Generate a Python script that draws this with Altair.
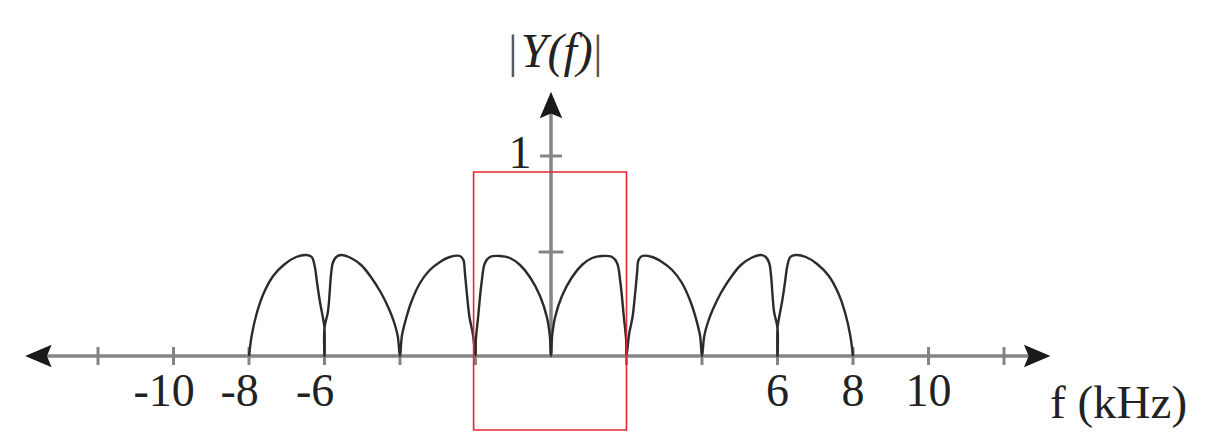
import altair as alt
import pandas as pd

# ---- data ----
f_khz = [
    -8.00, -7.93, -7.80, -7.62, -7.36, -7.05, -6.75, -6.48, -6.34, -6.26, -6.20, -6.12, -6.04, -6.00, -6.00, -6.00,
    -5.91, -5.87, -5.83, -5.78, -5.69, -5.56, -5.30, -5.03, -4.77, -4.50, -4.28, -4.15, -4.06, -4.00,
    -3.95, -3.85, -3.70, -3.47, -3.21, -2.94, -2.68, -2.41, -2.32, -2.28, -2.23, -2.16, -2.07, -2.00,
    -1.99, -1.93, -1.84, -1.75, -1.62, -1.35, -1.09, -0.82, -0.56, -0.29, -0.11, -0.03, 0.00,
    0.03, 0.11, 0.29, 0.56, 0.82, 1.09, 1.35, 1.62, 1.75, 1.84, 1.93, 1.99, 2.00,
    2.07, 2.16, 2.23, 2.28, 2.32, 2.41, 2.68, 2.94, 3.21, 3.47, 3.70, 3.85, 3.95, 4.00,
    4.06, 4.15, 4.28, 4.50, 4.77, 5.03, 5.30, 5.56, 5.69, 5.78, 5.83, 5.87, 5.91, 6.00, 6.00, 6.00,
    6.04, 6.12, 6.20, 6.26, 6.34, 6.48, 6.75, 7.05, 7.36, 7.62, 7.80, 7.93, 8.00,
]
magnitude = [
    0.00, 0.10, 0.21, 0.31, 0.40, 0.46, 0.495, 0.505, 0.495, 0.45, 0.37, 0.27, 0.19, 0.14, 0.00, 0.14,
    0.22, 0.30, 0.40, 0.465, 0.495, 0.505, 0.49, 0.455, 0.395, 0.315, 0.23, 0.165, 0.10, 0.00,
    0.10, 0.18, 0.27, 0.365, 0.43, 0.47, 0.495, 0.50, 0.48, 0.415, 0.315, 0.195, 0.11, 0.00,
    0.08, 0.195, 0.365, 0.465, 0.495, 0.50, 0.49, 0.455, 0.395, 0.30, 0.195, 0.10, 0.00,
    0.10, 0.195, 0.30, 0.395, 0.455, 0.49, 0.50, 0.495, 0.465, 0.365, 0.195, 0.08, 0.00,
    0.11, 0.195, 0.315, 0.415, 0.48, 0.50, 0.495, 0.47, 0.43, 0.365, 0.27, 0.18, 0.10, 0.00,
    0.10, 0.165, 0.23, 0.315, 0.395, 0.455, 0.49, 0.505, 0.495, 0.465, 0.40, 0.30, 0.22, 0.14, 0.00, 0.14,
    0.19, 0.27, 0.37, 0.45, 0.495, 0.505, 0.495, 0.46, 0.40, 0.31, 0.21, 0.10, 0.00,
]
x_ticks = [-12, -10, -8, -6, -4, -2, 2, 4, 6, 8, 10, 12]
x_tick_labels = [-10, -8, -6, 6, 8, 10]
y_ticks = [0.52, 1.0]
y_tick_labels = ["1"]
highlight_band = [-2.05, 2.0]   # red box, kHz
highlight_mag = [-0.37, 0.92]

# ---- scales / layout ----
W, H = 1202, 432
xs = alt.Scale(domain=[-14.384, 17.457], nice=False, zero=False)
ys = alt.Scale(domain=[-0.42, 1.74], nice=False, zero=False)
FONT = "Liberation Serif"
AXIS_C = "#858585"
INK = "#222222"

def X(field="x"):
    return alt.X(f"{field}:Q", scale=xs, axis=None)

def Y(field="y"):
    return alt.Y(f"{field}:Q", scale=ys, axis=None)

curve_df = pd.DataFrame({"x": f_khz, "y": magnitude, "i": list(range(len(f_khz)))})

axes_df = pd.DataFrame({"x": [-13.6, 0.0], "x2": [12.9, 0.0], "y": [0.0, 0.0], "y2": [0.0, 1.27]})
axes = alt.Chart(axes_df).mark_rule(color=AXIS_C, strokeWidth=3.5).encode(
    x=X(), x2="x2:Q", y=Y(), y2="y2:Q")

xt_df = pd.DataFrame({"x": x_ticks})
xt = alt.Chart(xt_df).transform_calculate(y="-0.045", y2="0.045").mark_rule(
    color=AXIS_C, strokeWidth=3).encode(x=X(), y=Y(), y2="y2:Q")

yt_df = pd.DataFrame({"y": y_ticks, "half": [0.33, 0.29]})
yt = alt.Chart(yt_df).transform_calculate(x="-datum.half", x2="datum.half").mark_rule(
    color=AXIS_C, strokeWidth=3).encode(x=X(), x2="x2:Q", y=Y())

curve = alt.Chart(curve_df).mark_line(color="#2b2b2b", strokeWidth=2.4, strokeJoin="round",
                                      interpolate="catmull-rom").encode(
    x=X(), y=Y(), order="i:Q")

arrow_df = pd.DataFrame({
    "x": [-13.58, 12.88, 0.0],
    "y": [0.0, 0.0, 1.255],
    "shape": ["M-1,0L1,-0.85L0.65,0L1,0.85Z", "M1,0L-1,-0.85L-0.65,0L-1,0.85Z", "M0,-1L-0.85,1L0,0.65L0.85,1Z"],
})
arrows = alt.Chart(arrow_df).mark_point(filled=True, color="#1a1a1a", opacity=1, size=700).encode(
    x=X(), y=Y(), shape=alt.Shape("shape:N", scale=None))

xl_df = pd.DataFrame({"v": x_tick_labels})
xlabels = alt.Chart(xl_df).transform_calculate(
    x="datum.v < 0 ? datum.v - 0.25 : datum.v", y="-0.25", t="toString(datum.v)"
).mark_text(font=FONT, fontSize=46, color=INK, align="center", baseline="alphabetic").encode(
    x=X(), y=Y(), text="t:N")

yl_df = pd.DataFrame({"t": y_tick_labels, "x": [-0.82], "y": [0.94]})
ylabels = alt.Chart(yl_df).mark_text(font=FONT, fontSize=46, color=INK, align="center",
                                     baseline="alphabetic").encode(x=X(), y=Y(), text="t:N")

title_df = pd.DataFrame({"t": ["Y(f)"], "x": [-0.80], "y": [1.445]})
ytitle = alt.Chart(title_df).mark_text(font=FONT, fontSize=48, fontStyle="italic", color=INK,
                                       align="left", baseline="alphabetic").encode(x=X(), y=Y(), text="t:N")
bars_df = pd.DataFrame({"t": ["|", "|"], "x": [-1.01, 1.24], "y": [1.445, 1.445]})
ybars = alt.Chart(bars_df).mark_text(font=FONT, fontSize=46, color="#555555", align="center",
                                     baseline="alphabetic").encode(x=X(), y=Y(), text="t:N")

xtitle_df = pd.DataFrame({"t": ["f (kHz)"], "x": [13.22], "y": [-0.31]})
xtitle = alt.Chart(xtitle_df).mark_text(font=FONT, fontSize=47, color=INK, align="left",
                                        baseline="alphabetic").encode(x=X(), y=Y(), text="t:N")

box_df = pd.DataFrame({"x": [highlight_band[0]], "x2": [highlight_band[1]],
                       "y": [highlight_mag[0]], "y2": [highlight_mag[1]]})
box = alt.Chart(box_df).mark_rect(fillOpacity=0, stroke="#e8262c", strokeWidth=1.6).encode(
    x=X(), x2="x2:Q", y=Y(), y2="y2:Q")

chart = alt.layer(axes, xt, yt, curve, arrows, xlabels, ylabels, ytitle, ybars, xtitle, box).properties(
    width=W, height=H, autosize=alt.AutoSizeParams(type="none"), padding=0,
    background="white",
).configure_view(stroke=None)

chart.save("out.html", embed_options={"renderer": "svg", "actions": False})
